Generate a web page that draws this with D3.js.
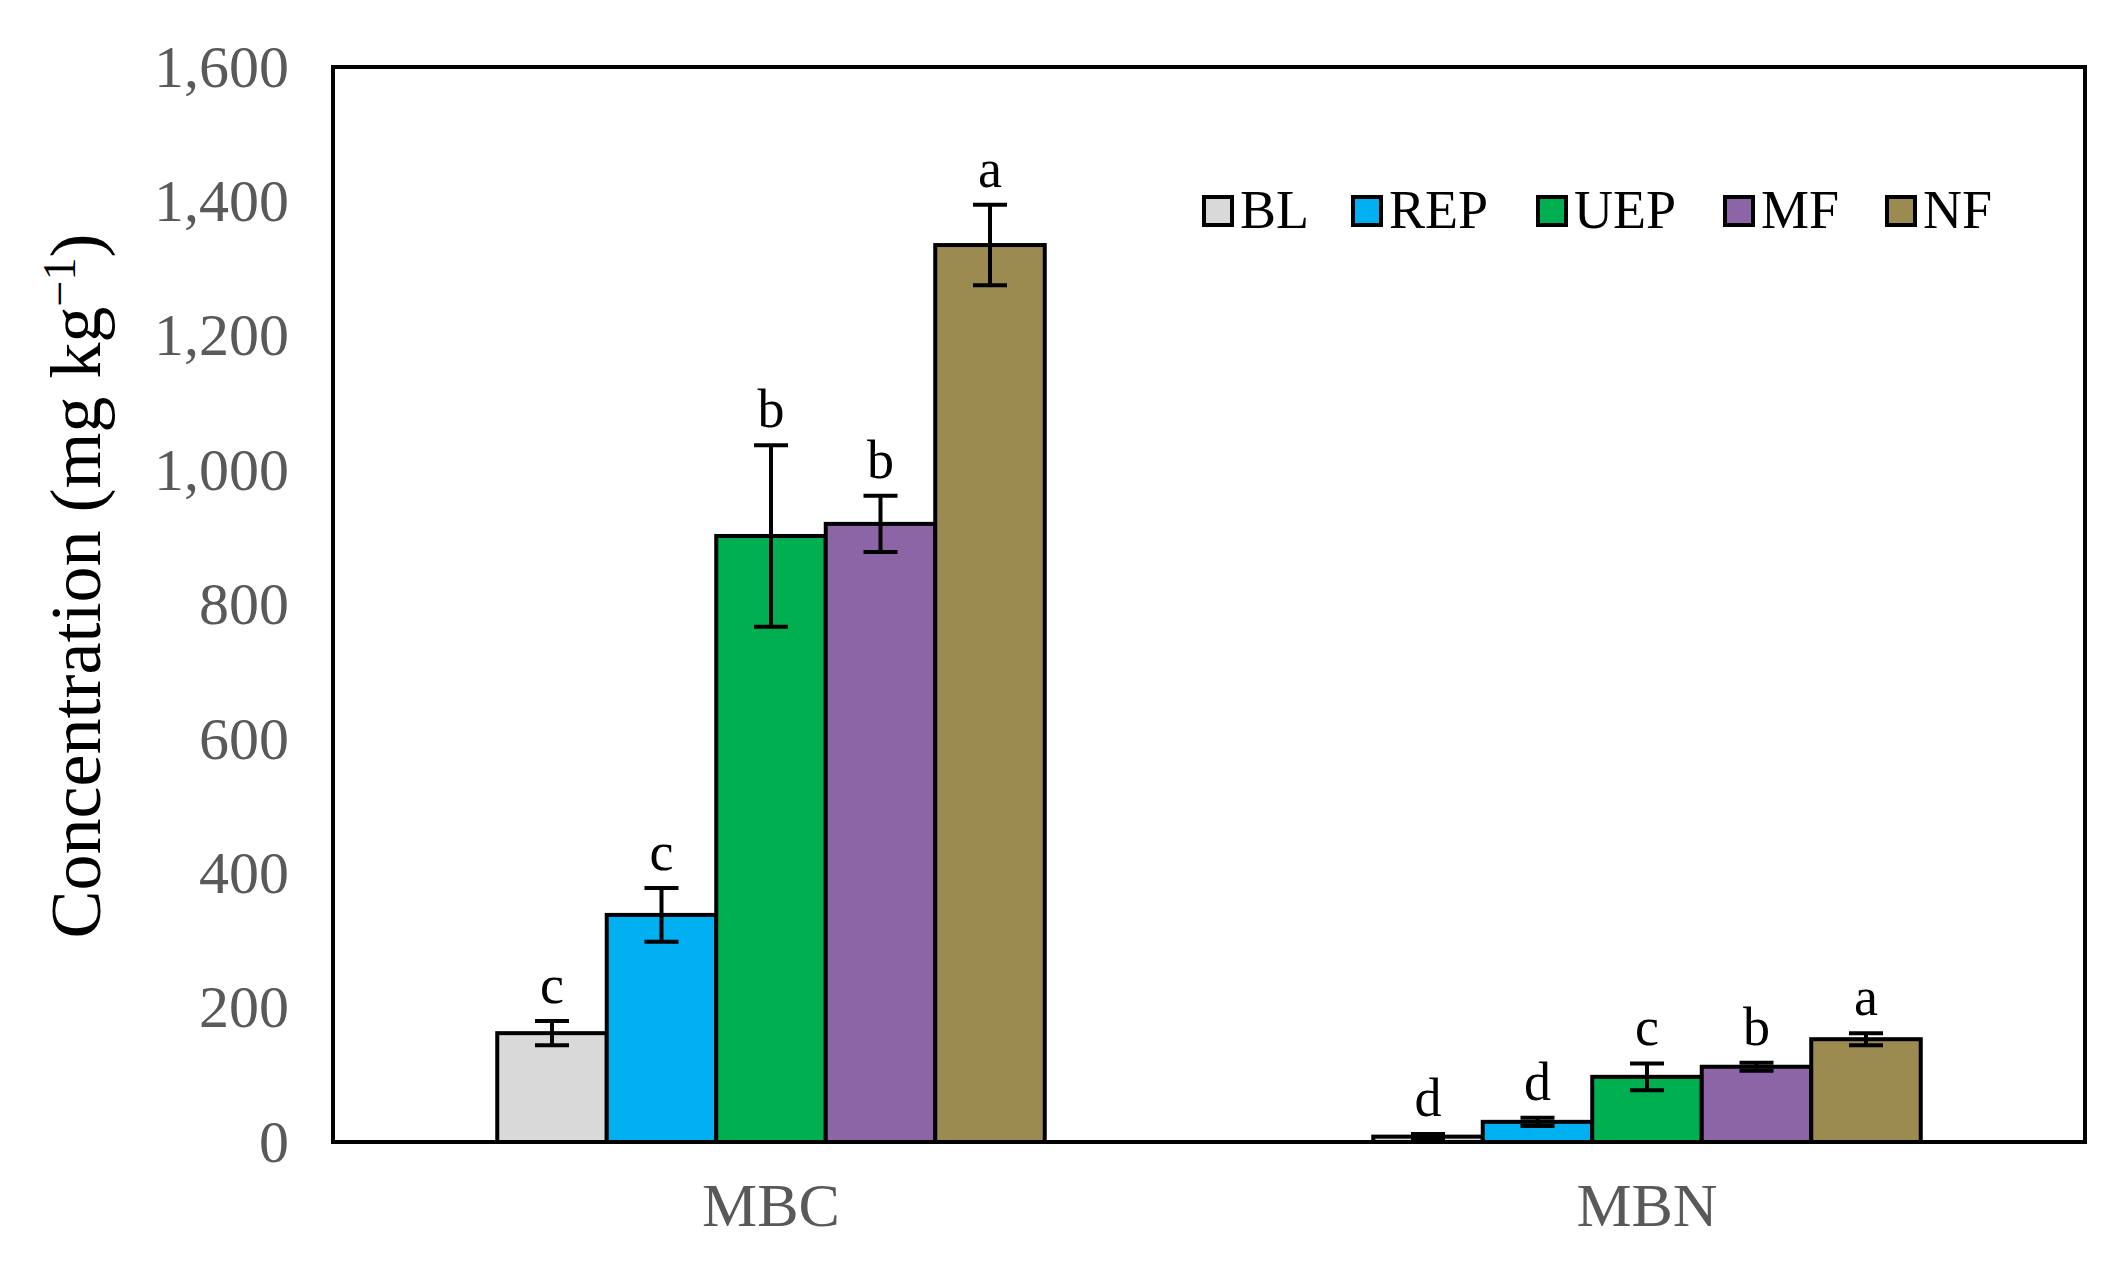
<!DOCTYPE html><html><head><meta charset="utf-8"><script src="https://cdn.jsdelivr.net/npm/d3@7"></script>
<style>body{margin:0;background:#fff}</style></head><body><svg id="c" width="2103" height="1265"></svg>
<script>
const groups=["MBC","MBN"];
const series=["BL","REP","UEP","MF","NF"];
const colors=["#d9d9d9","#00b0f0","#00b050","#8b65a5","#9c8b50"];
const mbcVals=[162,338,902,920,1335];
const mbcErr=[18,40,135,42,60];
const mbcLetters=["c","c","b","b","a"];
const mbnVals=[8,30,97,112,153];
const mbnErr=[4,6,20,6,9];
const mbnLetters=["d","d","c","b","a"];
const yTicks=[0,200,400,600,800,1000,1200,1400,1600];

const vals=[mbcVals,mbnVals],errs=[mbcErr,mbnErr],lets=[mbcLetters,mbnLetters];
const svg=d3.select("#c");
const L=333,R=2085,T=67,B=1142;
const x0=d3.scaleBand().domain(groups).range([L,R]);
const x1=d3.scaleBand().domain(series).range([0,x0.bandwidth()*0.625]);
const y=d3.scaleLinear().domain([0,1600]).range([B,T]);
const font="Liberation Serif, Times New Roman, serif";
svg.append("rect").attr("x",L).attr("y",T).attr("width",R-L).attr("height",B-T).attr("fill","none").attr("stroke","#000").attr("stroke-width",4);
const ya=svg.append("g").attr("transform",`translate(${L},0)`).call(d3.axisLeft(y).tickValues(yTicks).tickSize(0).tickPadding(44));
ya.select(".domain").remove();
ya.selectAll("text").attr("font-family",font).attr("font-size",60).attr("fill","#595959");
const xa=svg.append("g").attr("transform",`translate(0,${B})`).call(d3.axisBottom(x0).tickSize(0).tickPadding(40));
xa.select(".domain").remove();
xa.selectAll("text").attr("font-family",font).attr("font-size",62).attr("fill","#595959");
groups.forEach((g,gi)=>{
  const off=x0(g)+x0.bandwidth()*0.1875;
  series.forEach((s,si)=>{
    const bx=off+x1(s),bw=x1.bandwidth(),v=vals[gi][si],e=errs[gi][si],cx=bx+bw/2;
    svg.append("rect").attr("x",bx).attr("y",y(v)).attr("width",bw).attr("height",B-y(v)).attr("fill",colors[si]).attr("stroke","#000").attr("stroke-width",4);
    const gE=svg.append("g").attr("stroke","#000").attr("stroke-width",4);
    gE.append("line").attr("x1",cx).attr("x2",cx).attr("y1",y(v-e)).attr("y2",y(v+e));
    [v-e,v+e].forEach(t=>gE.append("line").attr("x1",cx-17).attr("x2",cx+17).attr("y1",y(t)).attr("y2",y(t)));
    svg.append("text").attr("x",cx).attr("y",y(v+e)-18).attr("text-anchor","middle").attr("font-family",font).attr("font-size",54).text(lets[gi][si]);
  });
});
const lx=[1204,1353,1538,1725,1887];
series.forEach((s,i)=>{
  svg.append("rect").attr("x",lx[i]).attr("y",197).attr("width",28).attr("height",28).attr("fill",colors[i]).attr("stroke","#000").attr("stroke-width",4);
  svg.append("text").attr("x",lx[i]+36).attr("y",228).attr("font-family",font).attr("font-size",54).text(s);
});
svg.append("text").attr("transform","translate(100,586) rotate(-90)").attr("text-anchor","middle").attr("font-family",font).attr("font-size",72)
 .text("Concentration (mg kg").append("tspan").attr("baseline-shift","super").attr("font-size",46).text("−1");
svg.select("text:last-child");
svg.selectAll("text").filter(function(){return this.textContent.startsWith("Concentration")}).append("tspan").text(")");
</script></body></html>
